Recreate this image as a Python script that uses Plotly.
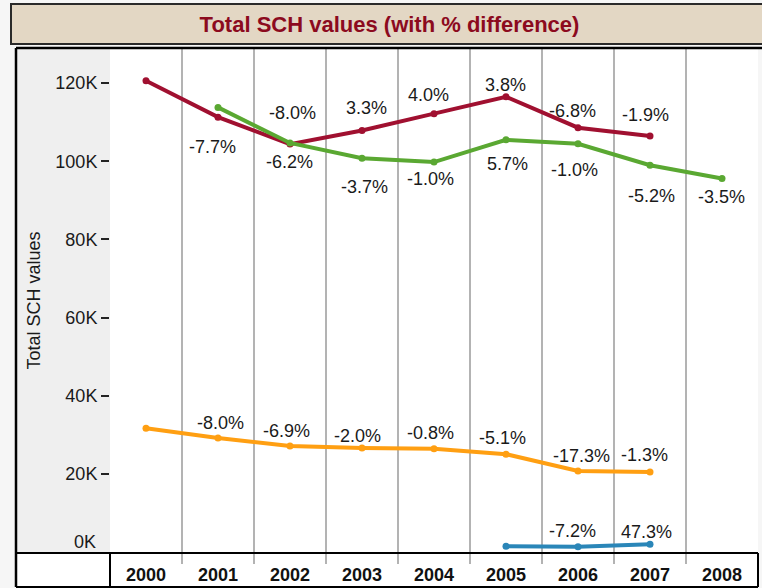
import plotly.graph_objects as go

years = ["2000", "2001", "2002", "2003", "2004", "2005", "2006", "2007", "2008"]

red_values = [120600, 111300, 104400, 107900, 112200, 116500, 108600, 106500, None]
green_values = [None, 113800, 104700, 100800, 99800, 105500, 104500, 99000, 95600]
orange_values = [31700, 29160, 27150, 26610, 26400, 25050, 20720, 20450, None]
blue_values = [None, None, None, None, None, 1450, 1345, 1981, None]

red_pct = [None, "-7.7%", "-6.2%", "3.3%", "4.0%", "3.8%", "-6.8%", "-1.9%", None]
green_pct = [None, None, "-8.0%", "-3.7%", "-1.0%", "5.7%", "-1.0%", "-5.2%", "-3.5%"]
orange_pct = [None, "-8.0%", "-6.9%", "-2.0%", "-0.8%", "-5.1%", "-17.3%", "-1.3%", None]
blue_pct = [None, None, None, None, None, None, "-7.2%", "47.3%", None]

y_tick_vals = [20000, 40000, 60000, 80000, 100000, 120000]
y_tick_text = ["20K", "40K", "60K", "80K", "100K", "120K"]

title_text = "Total SCH values (with % difference)"
y_title = "Total SCH values"

# label placement offsets in px (dx, dy up) -- styling only
red_off = [None, (-6, -30), (-1, -18), (4, 22), (-6, 19), (-1, 12), (-6, 17), (-5, 21), None]
green_off = [None, None, (2, 30), (2, -29), (-4, -17), (1, -24), (-4, -26), (1, -31), (-1, -18)]
orange_off = [None, (2, 15), (-4, 15), (-5, 12), (-4, 16), (-4, 16), (3, 15), (-6, 17), None]
blue_off = [None, None, None, None, None, None, (-6, 16), (-4, 12), None]

FONT = "Liberation Sans, Arial, sans-serif"
W, H = 762, 588
L, R, T, B = 110, 4, 48, 35
PW, PH = W - L - R, H - T - B


def px(x):
    return (x - L) / PW


def py(y):
    return (H - B - y) / PH


fig = go.Figure()
series = [
    (red_values, red_pct, red_off, "#a01030"),
    (green_values, green_pct, green_off, "#5aa832"),
    (orange_values, orange_pct, orange_off, "#ff9f12"),
    (blue_values, blue_pct, blue_off, "#2a86b8"),
]
annotations = []
for vals, pcts, offs, col in series:
    fig.add_trace(go.Scatter(
        x=years, y=vals, mode="lines+markers",
        line=dict(color=col, width=4),
        marker=dict(color=col, size=7),
        connectgaps=False, showlegend=False, hoverinfo="x+y",
    ))
    for i, (v, p, o) in enumerate(zip(vals, pcts, offs)):
        if p is None or v is None:
            continue
        annotations.append(dict(
            x=i, y=v, xref="x", yref="y", text=p, showarrow=False,
            xshift=o[0], yshift=o[1], font=dict(family=FONT, size=18, color="#1a1a1a"),
            xanchor="center", yanchor="middle",
        ))

annotations.append(dict(
    x=0, y=0, xref="paper", yref="y", text="0K", showarrow=False,
    xanchor="right", yanchor="bottom", xshift=-12, yshift=-2,
    font=dict(family=FONT, size=18, color="#1a1a1a"),
))
annotations.append(dict(
    x=px(33), y=0.5, xref="paper", yref="paper", text=y_title, showarrow=False,
    textangle=-90, xanchor="center", yanchor="middle",
    font=dict(family=FONT, size=18, color="#1a1a1a"),
))

shapes = [
    # title box
    dict(type="rect", xref="paper", yref="paper", x0=px(11), x1=px(775), y0=py(44), y1=py(4),
         fillcolor="#e3d7c4", line=dict(color="#2a2a2a", width=2), layer="below"),
    # gray y-axis panel
    dict(type="rect", xref="paper", yref="paper", x0=px(16), x1=px(110), y0=py(553), y1=py(48),
         fillcolor="#efefef", line=dict(width=0), layer="below"),
    # x-axis row background
    dict(type="rect", xref="paper", yref="paper", x0=px(16), x1=px(758), y0=py(587), y1=py(553),
         fillcolor="#ffffff", line=dict(width=0), layer="below"),
    # outer border lines
    dict(type="line", xref="paper", yref="paper", x0=px(16), x1=px(775), y0=py(48), y1=py(48),
         line=dict(color="#000000", width=2.5), layer="above"),
    dict(type="line", xref="paper", yref="paper", x0=px(16), x1=px(16), y0=py(48), y1=py(587),
         line=dict(color="#000000", width=2.5), layer="above"),
    dict(type="line", xref="paper", yref="paper", x0=px(16), x1=px(758), y0=py(553), y1=py(553),
         line=dict(color="#000000", width=2), layer="above"),
    dict(type="line", xref="paper", yref="paper", x0=px(16), x1=px(758), y0=py(587), y1=py(587),
         line=dict(color="#000000", width=2), layer="above"),
    dict(type="line", xref="paper", yref="paper", x0=px(758), x1=px(758), y0=py(553), y1=py(587),
         line=dict(color="#000000", width=2), layer="above"),
    dict(type="line", xref="paper", yref="paper", x0=px(110), x1=px(110), y0=py(553), y1=py(587),
         line=dict(color="#000000", width=2), layer="above"),
]

fig.update_layout(
    width=W, height=H,
    margin=dict(l=L, r=R, t=T, b=B, pad=0),
    paper_bgcolor="#f6f6f6",
    plot_bgcolor="#ffffff",
    font=dict(family=FONT, size=18, color="#1a1a1a"),
    title=dict(text="<b>" + title_text + "</b>", x=389.5 / W, xref="container", xanchor="center",
               y=1 - 24 / H, yref="container", yanchor="middle",
               font=dict(family=FONT, size=22, color="#8c0a1e")),
    xaxis=dict(
        type="category", categoryorder="array", categoryarray=years,
        range=[-0.5, 8.5], tickson="boundaries", showgrid=True,
        gridcolor="#b3b3b3", gridwidth=1.5,
        ticks="outside", ticklen=10, tickcolor="#b3b3b3", tickwidth=1.5,
        tickfont=dict(family=FONT, size=18, color="#111111", weight="bold"),
        ticklabelstandoff=9,
        showline=False, zeroline=False, fixedrange=True,
    ),
    yaxis=dict(
        range=[-250, 129000], tickvals=y_tick_vals, ticktext=y_tick_text,
        showgrid=False, zeroline=False, showline=False,
        ticks="outside", ticklen=8, tickcolor="#222222", tickwidth=1.5,
        tickfont=dict(family=FONT, size=18, color="#1a1a1a"),
        fixedrange=True,
    ),
    shapes=shapes,
    annotations=annotations,
    showlegend=False,
)

fig.write_html("out.html", config={"displayModeBar": False},
               post_script="document.body.style.margin='0';document.body.style.overflow='hidden';")
